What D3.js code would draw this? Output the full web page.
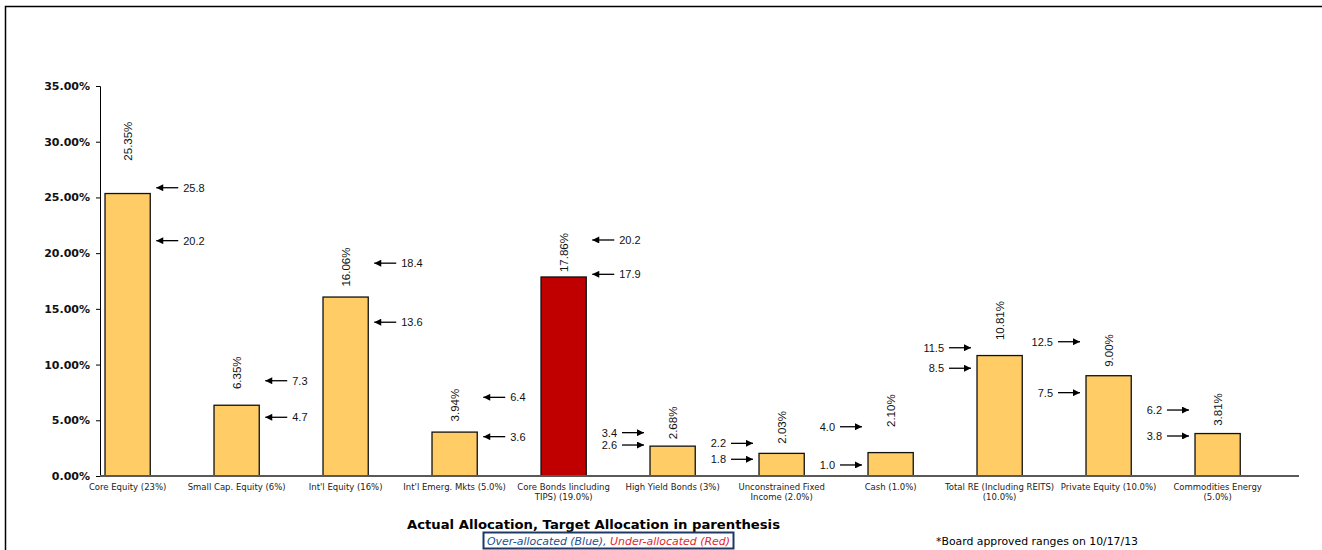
<!DOCTYPE html>
<html>
<head>
<meta charset="utf-8">
<script src="https://cdn.jsdelivr.net/npm/d3@7"></script>
<style>
  body { margin: 0; background: #fff; }
  svg { display: block; }
</style>
</head>
<body>
<svg id="chart" width="1322" height="550"></svg>
<script>
// categories, actual allocation and board approved ranges
var categoryLines = [
  ["Core Equity (23%)"],
  ["Small Cap. Equity (6%)"],
  ["Int'l Equity (16%)"],
  ["Int'l Emerg. Mkts (5.0%)"],
  ["Core Bonds Iincluding", "TIPS) (19.0%)"],
  ["High Yield Bonds (3%)"],
  ["Unconstrained Fixed", "Income (2.0%)"],
  ["Cash (1.0%)"],
  ["Total RE (Including REITS)", "(10.0%)"],
  ["Private Equity (10.0%)"],
  ["Commodities Energy", "(5.0%)"]
];
var actual = [25.35, 6.35, 16.06, 3.94, 17.86, 2.68, 2.03, 2.10, 10.81, 9.00, 3.81];
var allocStatus = ["in", "in", "in", "in", "under", "in", "in", "in", "in", "in", "in"];
var rangeHigh = [25.8, 7.3, 18.4, 6.4, 20.2, 3.4, 2.2, 4.0, 11.5, 12.5, 6.2];
var rangeLow = [20.2, 4.7, 13.6, 3.6, 17.9, 2.6, 1.8, 1.0, 8.5, 7.5, 3.8];
// where the hand placed range arrows sit on the % axis
var highMarkAt = [25.87, 8.55, 19.1, 7.06, 21.18, 3.89, 2.93, 4.42, 11.51, 12.05, 5.92];
var lowMarkAt = [21.12, 5.27, 13.8, 3.53, 18.10, 2.78, 1.50, 0.99, 9.67, 7.48, 3.59];
// where the rotated value labels start on the % axis
var labelAt = [28.3, 7.8, 17.0, 4.9, 18.3, 3.3, 2.9, 4.4, 12.2, 9.8, 4.5];
var yTicks = [0, 5, 10, 15, 20, 25, 30, 35];

var svg = d3.select("#chart");
var idx = d3.range(actual.length);

// frame
svg.append("path")
  .attr("d", "M5.5,560V6.5H1330")
  .attr("fill", "none")
  .attr("stroke", "#000")
  .attr("stroke-width", 1.5);

var x = d3.scaleBand().domain(idx).range([100, 1299]);
var y = d3.scaleLinear().domain([0, 35]).range([476, 86]);
var barOff = x.bandwidth() * 0.046;
var barW = x.bandwidth() * 0.415;
function barLeft(i) { return x(i) + barOff; }
function barMid(i) { return x(i) + barOff + barW / 2; }

// arrow head
svg.append("defs").append("marker")
  .attr("id", "head")
  .attr("viewBox", "0 0 10 10")
  .attr("refX", 10).attr("refY", 5)
  .attr("markerWidth", 8).attr("markerHeight", 7)
  .attr("markerUnits", "userSpaceOnUse")
  .attr("orient", "auto")
  .append("path")
  .attr("d", "M0,0L10,5L0,10Z")
  .attr("fill", "#000");

// y axis
var yAxis = svg.append("g")
  .attr("transform", "translate(100,0)")
  .call(d3.axisLeft(y).tickValues(yTicks).tickSize(4).tickPadding(6)
    .tickFormat(function (d) { return d.toFixed(2) + "%"; }));
yAxis.select(".domain").attr("stroke", "#000").attr("stroke-width", 1);
yAxis.selectAll(".tick line").attr("stroke", "#000");
yAxis.selectAll("text")
  .attr("font-family", "DejaVu Sans, Verdana, sans-serif")
  .attr("font-weight", "bold")
  .attr("font-size", "11px")
  .attr("fill", "#111");

// bars
svg.selectAll("rect.bar")
  .data(idx)
  .enter()
  .append("rect")
  .attr("class", "bar")
  .attr("x", function (i) { return barLeft(i); })
  .attr("y", function (i) { return y(actual[i]); })
  .attr("width", barW)
  .attr("height", function (i) { return y(0) - y(actual[i]); })
  .attr("fill", function (i) { return allocStatus[i] === "under" ? "#C00000" : "#FFCC66"; })
  .attr("stroke", "#111")
  .attr("stroke-width", 1.3);

// x axis line
svg.append("line")
  .attr("x1", 100).attr("x2", x.range()[1])
  .attr("y1", y(0)).attr("y2", y(0))
  .attr("stroke", "#595959")
  .attr("stroke-width", 2);

// category labels
var cat = svg.selectAll("text.cat")
  .data(idx)
  .enter()
  .append("text")
  .attr("class", "cat")
  .attr("text-anchor", "middle")
  .attr("font-family", "DejaVu Sans, Verdana, sans-serif")
  .attr("font-size", "8.5px")
  .attr("fill", "#222");
cat.selectAll("tspan")
  .data(function (i) { return categoryLines[i].map(function (t) { return { t: t, i: i }; }); })
  .enter()
  .append("tspan")
  .attr("x", function (d) { return barMid(d.i); })
  .attr("y", function (d, k) { return y(0) + 14 + k * 10; })
  .text(function (d) { return d.t; });

// value labels
svg.selectAll("text.val")
  .data(idx)
  .enter()
  .append("text")
  .attr("class", "val")
  .attr("transform", function (i) {
    return "translate(" + (barMid(i) + 4) + "," + y(labelAt[i]) + ") rotate(-90)";
  })
  .attr("font-family", "Liberation Sans, Arial, sans-serif")
  .attr("font-size", "11.5px")
  .attr("fill", "#111")
  .text(function (i) { return actual[i].toFixed(2) + "%"; });

// range arrows
var marks = [];
idx.forEach(function (i) {
  marks.push({ i: i, v: rangeHigh[i], at: highMarkAt[i] });
  marks.push({ i: i, v: rangeLow[i], at: lowMarkAt[i] });
});
var gap = 6, len = 22, txtGap = 5;
marks.forEach(function (m) {
  var fromRight = m.i <= 4;
  var yy = y(m.at);
  var head, tail, tx, anchor;
  if (fromRight) {
    head = barLeft(m.i) + barW + gap;
    tail = head + len;
    tx = tail + txtGap;
    anchor = "start";
  } else {
    head = barLeft(m.i) - gap;
    tail = head - len;
    tx = tail - txtGap;
    anchor = "end";
  }
  svg.append("line")
    .attr("x1", tail).attr("x2", head)
    .attr("y1", yy).attr("y2", yy)
    .attr("stroke", "#000")
    .attr("stroke-width", 1.3)
    .attr("marker-end", "url(#head)");
  svg.append("text")
    .attr("x", tx)
    .attr("y", yy + 4)
    .attr("text-anchor", anchor)
    .attr("font-family", "Liberation Sans, Arial, sans-serif")
    .attr("font-size", "11px")
    .attr("fill", "#111")
    .text(m.v.toFixed(1));
});

// titles
svg.append("text")
  .attr("x", 407).attr("y", 529)
  .attr("font-family", "DejaVu Sans, Verdana, sans-serif")
  .attr("font-weight", "bold")
  .attr("font-size", "12px")
  .attr("textLength", 373)
  .attr("lengthAdjust", "spacingAndGlyphs")
  .attr("fill", "#000")
  .text("Actual Allocation, Target Allocation in parenthesis");

svg.append("rect")
  .attr("x", 483.5).attr("y", 532.5)
  .attr("width", 250).attr("height", 16)
  .attr("fill", "#fff")
  .attr("stroke", "#1F3864")
  .attr("stroke-width", 2);
var legend = svg.append("text")
  .attr("x", 487).attr("y", 545)
  .attr("font-family", "DejaVu Sans, Verdana, sans-serif")
  .attr("font-style", "italic")
  .attr("font-size", "11px")
  .attr("textLength", 243)
  .attr("lengthAdjust", "spacingAndGlyphs");
legend.append("tspan").attr("fill", "#1F4E8C").text("Over-allocated (Blue), ");
legend.append("tspan").attr("fill", "#E3262B").text("Under-allocated (Red)");

svg.append("text")
  .attr("x", 936).attr("y", 545)
  .attr("font-family", "DejaVu Sans, Verdana, sans-serif")
  .attr("font-size", "11px")
  .attr("textLength", 202)
  .attr("lengthAdjust", "spacingAndGlyphs")
  .attr("fill", "#000")
  .text("*Board approved ranges on 10/17/13");
</script>
</body>
</html>
